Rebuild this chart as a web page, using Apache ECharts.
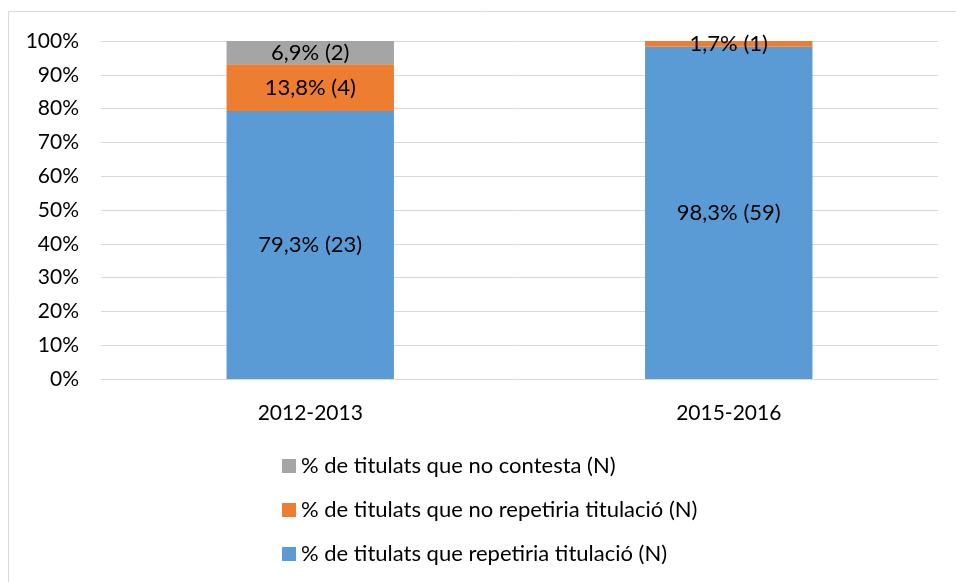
<!DOCTYPE html>
<html>
<head>
<meta charset="utf-8">
<script src="https://cdn.jsdelivr.net/npm/echarts@6/dist/echarts.min.js"></script>
<style>
  html, body { margin: 0; padding: 0; background: #fff; }
  #chart { width: 956px; height: 582px; }
</style>
</head>
<body>
<div id="chart"></div>
<script>
// dades del gràfic
const years = ['2012-2013', '2015-2016']
const seriesNames = [
  '% de titulats que repetiria titulació (N)',
  '% de titulats que no repetiria titulació (N)',
  '% de titulats que no contesta (N)'
]
const pctRepetiria = [79.3, 98.3]
const pctNoRepetiria = [13.8, 1.7]
const pctNoContesta = [6.9, 0]
const nRepetiria = [23, 59]
const nNoRepetiria = [4, 1]
const nNoContesta = [2, 0]
const colors = ['#5B9BD5', '#ED7D31', '#A5A5A5']

const chart = echarts.init(document.getElementById('chart'))

const makeSeries = (name, values, counts, color) => ({
  name,
  type: 'bar',
  stack: 'total',
  barWidth: '40%',
  itemStyle: { color },
  label: {
    show: true,
    position: 'inside',
    color: '#000',
    fontSize: 22,
    fontFamily: 'Lato',
    formatter: p => p.value > 0
      ? p.value.toFixed(1).replace('.', ',') + '% (' + counts[p.dataIndex] + ')'
      : ''
  },
  data: values
})

const option = {
  animation: false,
  backgroundColor: '#fff',
  textStyle: { fontFamily: 'Lato' },
  graphic: [{
    type: 'rect',
    shape: { x: 8.5, y: 11.5, width: 960, height: 600 },
    style: { fill: 'none', stroke: '#D9D9D9', lineWidth: 1 },
    silent: true
  }],
  grid: { left: 101, right: 18, top: 41, bottom: 203 },
  legend: {
    data: [seriesNames[2], seriesNames[1], seriesNames[0]],
    orient: 'vertical',
    left: 277,
    top: 450,
    itemWidth: 14,
    itemHeight: 14,
    itemGap: 22,
    icon: 'rect',
    textStyle: { fontSize: 22, color: '#000', fontFamily: 'Lato' }
  },
  xAxis: {
    type: 'category',
    data: years,
    axisLine: { lineStyle: { color: '#D9D9D9' } },
    axisTick: { show: false },
    axisLabel: { fontSize: 21, color: '#000', margin: 24 }
  },
  yAxis: {
    type: 'value',
    min: 0,
    max: 100,
    interval: 10,
    axisLine: { show: false },
    axisTick: { show: false },
    splitLine: { lineStyle: { color: '#D9D9D9', width: 1 } },
    axisLabel: { fontSize: 21, color: '#000', margin: 22, formatter: '{value}%' }
  },
  series: [
    makeSeries(seriesNames[0], pctRepetiria, nRepetiria, colors[0]),
    makeSeries(seriesNames[1], pctNoRepetiria, nNoRepetiria, colors[1]),
    makeSeries(seriesNames[2], pctNoContesta, nNoContesta, colors[2])
  ]
}

chart.setOption(option)
</script>
</body>
</html>
